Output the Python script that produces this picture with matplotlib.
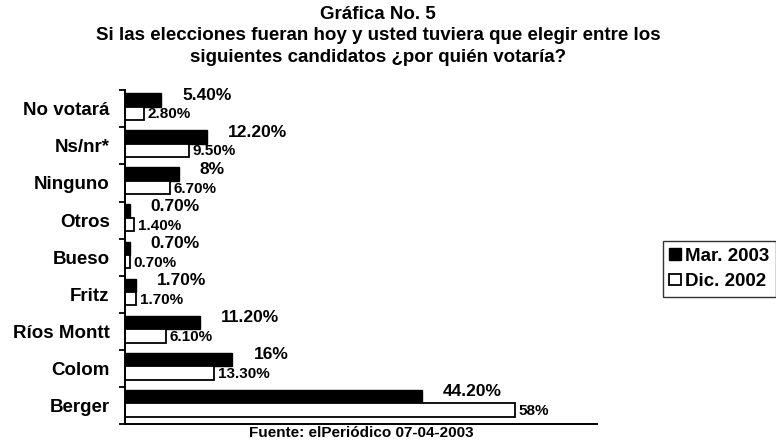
import numpy as np
import matplotlib.pyplot as plt

plt.rcParams['font.family'] = ['Liberation Sans', 'DejaVu Sans']
plt.rcParams['font.weight'] = 'bold'

categories = ['No votará', 'Ns/nr*', 'Ninguno', 'Otros', 'Bueso', 'Fritz',
              'Ríos Montt', 'Colom', 'Berger']
mar_2003 = [5.4, 12.2, 8, 0.7, 0.7, 1.7, 11.2, 16, 44.2]
dic_2002 = [2.8, 9.5, 6.7, 1.4, 0.7, 1.7, 6.1, 13.3, 58]
mar_labels = ['5.40%', '12.20%', '8%', '0.70%', '0.70%', '1.70%', '11.20%', '16%', '44.20%']
dic_labels = ['2.80%', '9.50%', '6.70%', '1.40%', '0.70%', '1.70%', '6.10%', '13.30%', '58%']

fig = plt.figure(figsize=(7.76, 4.40), dpi=100)
ax = fig.add_axes([0.161, 0.036, 0.608, 0.759])

y = np.arange(len(categories))
h = 0.36
b1 = ax.barh(y - 0.24, mar_2003, height=h, color='black', edgecolor='black',
             linewidth=1.0, label='Mar. 2003')
b2 = ax.barh(y + 0.12, dic_2002, height=h, color='white', edgecolor='black',
             linewidth=1.3, label='Dic. 2002')

# etiquetas de valores
for i in range(len(categories)):
    ax.annotate(mar_labels[i], (mar_2003[i], y[i] - 0.37), xytext=(21, 0),
                textcoords='offset pixels', ha='left', va='center', fontsize=12.5)
    ax.annotate(dic_labels[i], (dic_2002[i], y[i] + 0.15), xytext=(4, 0),
                textcoords='offset pixels', ha='left', va='center', fontsize=11)

ax.set_xlim(0, 70.2)
ax.set_ylim(len(categories) - 0.5, -0.5)
ax.set_yticks(y)
ax.set_yticklabels(categories, fontsize=13.5)
ax.set_yticks(np.arange(len(categories) + 1) - 0.5, minor=True)
ax.tick_params(axis='y', which='major', length=0, pad=11)
ax.tick_params(axis='y', which='minor', length=4, width=1.3)
ax.set_xticks([])
for s in ['top', 'right']:
    ax.spines[s].set_visible(False)
ax.spines['left'].set_linewidth(1.4)
ax.spines['bottom'].set_linewidth(1.4)

fig.text(0.487, 0.968, 'Gráfica No. 5', ha='center', va='center', fontsize=13.5)
fig.text(0.487, 0.919, 'Si las elecciones fueran hoy y usted tuviera que elegir entre los',
         ha='center', va='center', fontsize=13.5)
fig.text(0.487, 0.869, 'siguientes candidatos ¿por quién votaría?',
         ha='center', va='center', fontsize=13.5)
fig.text(0.465, 0.015, 'Fuente: elPeriódico 07-04-2003', ha='center', va='center',
         fontsize=11)

leg = fig.legend(handles=[b1, b2], loc='upper left', bbox_to_anchor=(0.854, 0.452),
                 bbox_transform=fig.transFigure, fontsize=13.5, frameon=True,
                 fancybox=False, edgecolor='black', handlelength=0.6, handleheight=0.6,
                 handletextpad=0.25, borderpad=0.35, borderaxespad=0,
                 labelspacing=0.45)
leg.get_frame().set_linewidth(1.0)

fig.savefig('out.png', dpi=100)
